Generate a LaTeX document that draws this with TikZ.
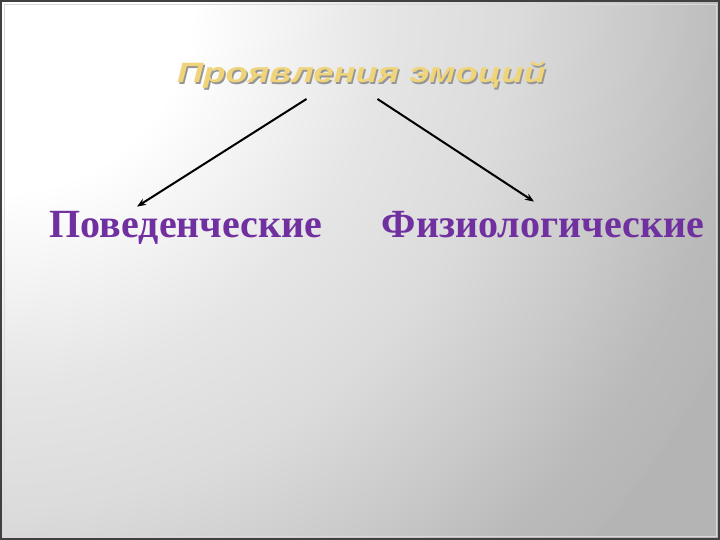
\documentclass[tikz,border=0pt]{standalone}
\usepackage{fontspec}
\setmainfont{Liberation Serif}
\newfontfamily\titlefont{Liberation Sans}
\usetikzlibrary{arrows.meta}

\definecolor{slidegray}{RGB}{180,180,180}
\definecolor{titleyellow}{RGB}{240,212,122}
\definecolor{titleshade}{RGB}{150,150,150}
\definecolor{labelpurple}{RGB}{112,48,160}

\pgfdeclareradialshading{slidebg}{\pgfpoint{0bp}{0bp}}{color(0bp)=(white); color(6bp)=(white); color(12bp)=(black!10); color(16bp)=(black!14); color(20bp)=(black!21); color(23bp)=(black!27); color(26bp)=(black!29.5); color(50bp)=(black!29.5)}

\begin{document}
\begin{tikzpicture}[x=1pt,y=1pt]
        \tikzset{
            ttl/.style={font=\titlefont\bfseries\itshape\fontsize{28}{32}\selectfont, xscale=1.3, anchor=base, inner sep=0pt},
            lbl/.style={font=\bfseries\fontsize{40}{44}\selectfont, text=labelpurple, anchor=base, inner sep=0pt},
            arr/.style={-{Stealth[length=9pt,width=7pt]}, line width=2pt, black}
            }

            % background
            \useasboundingbox (0,0) rectangle (720,540);
            \begin{scope}
            \clip (0,0) rectangle (720,540);
            \fill[slidegray] (0,0) rectangle (720,540);
            \shade[shading=slidebg] (0,540) circle (800);
            \end{scope}
            \draw[black!75, line width=2pt] (1,1) rectangle (719,539);
            \draw[white!85!black, line width=0.6pt] (4,4) rectangle (716,536);

            \node[ttl, text=titleshade] at (363,455.5) {Проявления эмоций};
            \node[ttl, text=titleyellow] (title) at (361.5,457) {Проявления эмоций};
            \node[lbl] (behav) at (186,302) {Поведенческие};
            \node[lbl] (phys) at (543,302) {Физиологические};

            \draw[arr] ([xshift=-55pt,yshift=-10pt]title.south) -- ([xshift=-49pt,yshift=5pt]behav.north);
            \draw[arr] ([xshift=16pt,yshift=-10pt]title.south) -- ([xshift=-9pt,yshift=10pt]phys.north);
        \end{tikzpicture}
\end{document}
